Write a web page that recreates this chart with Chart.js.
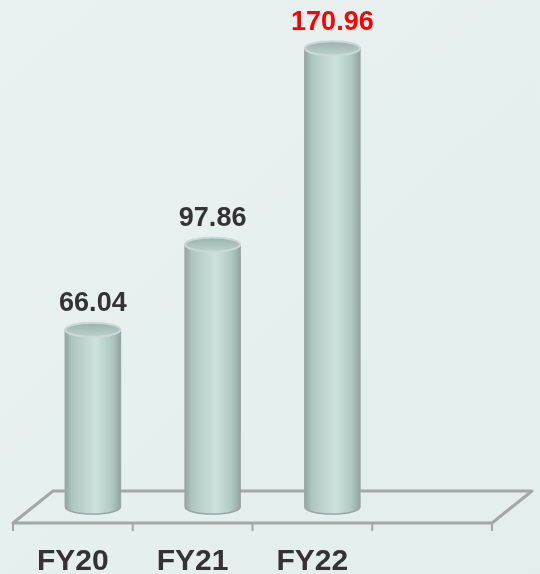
<!DOCTYPE html>
<html>
<head>
<meta charset="utf-8">
<script src="https://cdn.jsdelivr.net/npm/chart.js@4"></script>
<style>
    html, body { margin: 0; padding: 0; background: #e6f0ef; }
    #wrap { width: 540px; height: 574px; }
</style>
</head>
<body>
<div id="wrap"><canvas id="fyChart"></canvas></div>
<script>
// Chart data
const years = ["FY20", "FY21", "FY22", ""];
const revenue = [66.04, 97.86, 170.96, null];
const valueColors = ["#333333", "#333333", "#ff0000"];

const DEPTH_X = 20;   // half depth of the floor, x shift
const DEPTH_Y = 16;   // half depth of the floor, y shift

// Background fill
const backgroundPlugin = {
    id: "background",
    beforeDraw(chart) {
        const ctx = chart.ctx;
        const g = ctx.createLinearGradient(0, 0, chart.width, chart.height);
        g.addColorStop(0, "#e9f2f1");
        g.addColorStop(1, "#e2edec");
        ctx.save();
        ctx.fillStyle = g;
        ctx.fillRect(0, 0, chart.width, chart.height);
        ctx.restore();
    }
};

// 3D floor + cylinders + value labels
const cylinderPlugin = {
    id: "cylinders",
    beforeDatasetsDraw(chart) {
        const ctx = chart.ctx;
        const area = chart.chartArea;
        const xScale = chart.scales.x;
        const slot = (area.right - area.left) / years.length;
        const base = area.bottom;

        const fl = area.left - DEPTH_X, fr = area.right - DEPTH_X, fy = base + DEPTH_Y;
        const bl = area.left + DEPTH_X, br = area.right + DEPTH_X, by = base - DEPTH_Y;

        ctx.save();
        ctx.strokeStyle = "#a2a8a7";
        ctx.lineWidth = 3;
        ctx.lineJoin = "round";
        ctx.beginPath();
        ctx.moveTo(fl, fy);
        ctx.lineTo(bl, by);
        ctx.lineTo(br, by);
        ctx.lineTo(fr, fy);
        ctx.closePath();
        ctx.stroke();

        // tick marks on the front edge
        ctx.lineWidth = 2;
        for (let i = 0; i <= years.length; i++) {
            const x = xScale.getPixelForValue(i) - slot / 2 - DEPTH_X;
            ctx.beginPath();
            ctx.moveTo(x, fy);
            ctx.lineTo(x, fy + 8);
            ctx.stroke();
        }
        ctx.restore();
    },
    afterDatasetsDraw(chart) {
        const ctx = chart.ctx;
        const meta = chart.getDatasetMeta(0);
        meta.data.forEach((bar, i) => {
            if (revenue[i] == null) return;
            const props = bar.getProps(["x", "y", "base", "width"], true);
            const rx = props.width / 2;
            const ry = 7;
            const x = props.x, top = props.y, bottom = props.base;

            ctx.save();
            // body
            const g = ctx.createLinearGradient(x - rx, 0, x + rx, 0);
            g.addColorStop(0, "#8fa6a1");
            g.addColorStop(0.12, "#adc5c0");
            g.addColorStop(0.55, "#cde2df");
            g.addColorStop(0.85, "#afc7c2");
            g.addColorStop(1, "#90a6a2");
            ctx.beginPath();
            ctx.moveTo(x - rx, top);
            ctx.lineTo(x - rx, bottom);
            ctx.ellipse(x, bottom, rx, ry, 0, Math.PI, 0, true);
            ctx.lineTo(x + rx, top);
            ctx.closePath();
            ctx.fillStyle = g;
            ctx.fill();
            ctx.strokeStyle = "#9aa6a4";
            ctx.lineWidth = 1.5;
            ctx.stroke();

            // top cap
            const tg = ctx.createLinearGradient(0, top - ry, 0, top + ry);
            tg.addColorStop(0, "#9ab2ad");
            tg.addColorStop(1, "#bad0cc");
            ctx.beginPath();
            ctx.ellipse(x, top, rx, ry, 0, 0, Math.PI * 2);
            ctx.fillStyle = tg;
            ctx.fill();
            ctx.strokeStyle = "#cbd8d6";
            ctx.lineWidth = 2;
            ctx.stroke();

            // value label
            ctx.fillStyle = valueColors[i];
            ctx.font = "bold 27px 'Liberation Sans', Arial, sans-serif";
            ctx.textAlign = "center";
            ctx.textBaseline = "middle";
            ctx.fillText(revenue[i].toFixed(2), x, top - 26);
            ctx.restore();
        });
    }
};

new Chart(document.getElementById("fyChart"), {
    type: "bar",
    data: {
        labels: years,
        datasets: [{
            data: revenue,
            backgroundColor: "rgba(0,0,0,0)",
            borderWidth: 0,
            categoryPercentage: 1,
            barPercentage: 0.46
        }]
    },
    options: {
        responsive: true,
        maintainAspectRatio: false,
        animation: false,
        layout: { padding: { left: 33, right: 28, top: 24, bottom: 0 } },
        plugins: {
            legend: { display: false },
            tooltip: { enabled: false }
        },
        scales: {
            x: {
                offset: true,
                grid: { display: false },
                border: { display: false },
                afterFit: scale => { scale.height = 67; },
                ticks: {
                    color: "#333333",
                    padding: 29,
                    labelOffset: -DEPTH_X,
                    maxRotation: 0,
                    font: { family: "'Liberation Sans', Arial, sans-serif", size: 30, weight: "bold" }
                }
            },
            y: {
                display: false,
                min: 0,
                max: 180
            }
        }
    },
    plugins: [backgroundPlugin, cylinderPlugin]
});
</script>
</body>
</html>
